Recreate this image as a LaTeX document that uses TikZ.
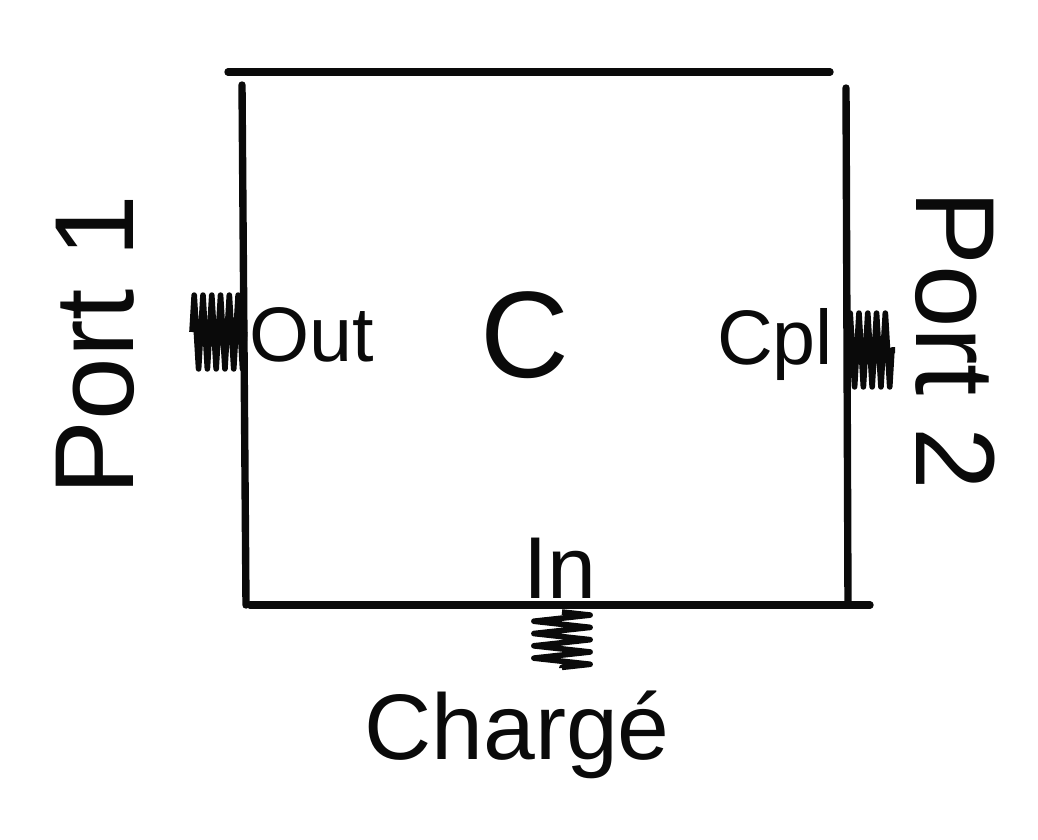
\documentclass[tikz,border=0pt]{standalone}
\usepackage{fontspec}
\setmainfont{Liberation Sans}
\usetikzlibrary{positioning,decorations.pathmorphing}
\definecolor{Ink}{RGB}{10,10,10}

\begin{document}
\begin{tikzpicture}[
    x=0.02cm,
    y=-0.02cm,
    every node/.style={align=center, text=Ink, inner sep=0pt},
    side/.style={draw=Ink, line width=4.2pt, line cap=round},
    stub/.style={draw=Ink, line width=3.2pt, line join=round, decorate,
      decoration={zigzag, segment length=5pt, amplitude=#1}},
    bottomstub/.style={draw=Ink, line width=3.2pt, line join=round, decorate,
      decoration={zigzag, segment length=7pt, amplitude=#1}},
    portlabel/.style={font=\fontsize{64}{64}\selectfont},
    inner/.style={font=\fontsize{44}{44}\selectfont}
  ]
    \useasboundingbox (0,0) rectangle (1038,839);

    % box sides, drawn as four strokes
    \coordinate (tl) at (228,72);
    \coordinate (tr) at (830,72);
    \draw[side] (tl) -- (tr);
    \draw[side] (242,85) -- (246,605);
    \draw[side] (846,88) -- (848,605);
    \draw[side] (250,605) -- (870,605);

    % labels inside the box
    \node[font=\fontsize{70}{70}\selectfont] (coupler) at (525,335) {C};
    \node[inner] (out) at (312,335) {Out};
    \node[inner] (cpl) at (775,345) {Cpl};
    \node[font=\fontsize{50}{50}\selectfont] (in) at (560,568) {In};

    % ports outside
    \node[portlabel, rotate=90] (port1) at (95,345) {Port 1};
    \node[portlabel, rotate=-90] (port2) at (955,340) {Port 2};
    \node[font=\fontsize{53}{53}\selectfont] (charge) at (517,735) {Chargé};

    % port stubs
    \coordinate (p1a) at (192,332);
    \coordinate (p1b) at (245,332);
    \coordinate (p2a) at (848,350);
    \coordinate (p2b) at (895,350);
    \coordinate (p3a) at (562,612);
    \coordinate (p3b) at (562,668);
    \draw[stub=21pt] (p1a) -- (p1b);
    \draw[stub=21pt] (p2a) -- (p2b);
    \draw[bottomstub=16pt] (p3a) -- (p3b);
  \end{tikzpicture}
\end{document}
